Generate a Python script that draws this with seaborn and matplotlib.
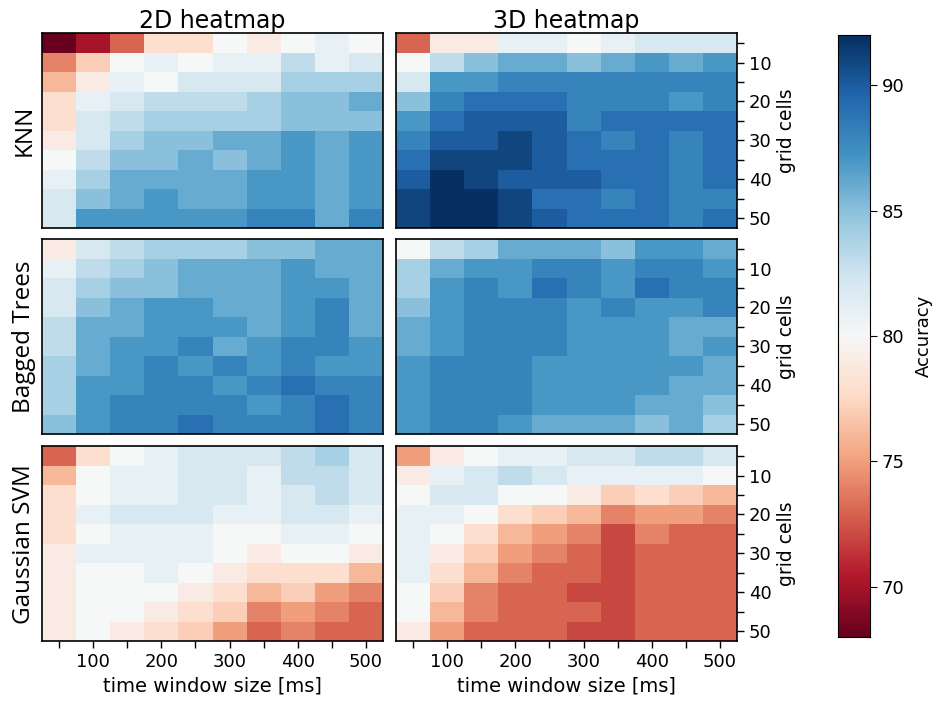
import numpy as np
import pandas as pd
import seaborn as sns
import matplotlib
matplotlib.use('Agg')
import matplotlib.pyplot as plt

plt.rcParams['font.family'] = ['DejaVu Sans']

#%%
# axes values
time_windows = [50, 100, 150, 200, 250, 300, 350, 400, 450, 500]
grid_cells = [5, 10, 15, 20, 25, 30, 35, 40, 45, 50]
classifiers = ['KNN', 'Bagged Trees', 'Gaussian SVM']
titles = ['2D heatmap', '3D heatmap']

# accuracy [%], rows = grid cells (5..50), columns = time window (50..500 ms)
knn_2d = [
    [68, 70, 73, 78, 78, 80, 79, 80, 81, 80],
    [74, 77, 80, 81, 80, 81, 81, 83, 81, 82],
    [76, 79, 81, 80, 82, 82, 82, 84, 84, 84],
    [78, 81, 82, 83, 83, 83, 84, 85, 85, 86],
    [78, 82, 83, 84, 84, 84, 84, 85, 85, 85],
    [79, 82, 84, 85, 85, 86, 86, 87, 86, 87],
    [80, 83, 85, 85, 86, 85, 86, 87, 86, 87],
    [81, 84, 86, 86, 86, 86, 87, 87, 86, 87],
    [82, 85, 86, 87, 86, 86, 87, 87, 86, 87],
    [82, 87, 87, 87, 87, 87, 88, 88, 86, 88],
]
knn_3d = [
    [73, 79, 79, 81, 81, 80, 81, 82, 82, 82],
    [80, 83, 85, 86, 86, 85, 86, 87, 86, 87],
    [82, 87, 87, 88, 88, 88, 88, 88, 88, 88],
    [85, 88, 89, 89, 89, 88, 88, 88, 87, 88],
    [87, 89, 90, 90, 90, 88, 89, 89, 89, 89],
    [88, 90, 90, 91, 90, 89, 88, 89, 88, 89],
    [89, 91, 91, 91, 90, 89, 89, 89, 88, 89],
    [90, 92, 91, 90, 90, 90, 89, 89, 88, 89],
    [91, 92, 92, 91, 89, 89, 88, 89, 88, 88],
    [91, 92, 92, 91, 90, 89, 89, 89, 88, 89],
]
bagged_2d = [
    [79, 82, 83, 84, 84, 84, 85, 85, 86, 86],
    [81, 83, 84, 85, 86, 86, 86, 87, 86, 86],
    [82, 84, 85, 85, 86, 86, 86, 87, 87, 86],
    [82, 85, 86, 87, 87, 86, 86, 87, 88, 86],
    [83, 86, 86, 87, 87, 87, 86, 87, 88, 86],
    [83, 86, 87, 87, 88, 86, 87, 88, 88, 87],
    [84, 86, 87, 88, 87, 88, 87, 88, 87, 87],
    [84, 87, 87, 88, 88, 87, 88, 89, 88, 88],
    [84, 87, 88, 88, 88, 88, 87, 88, 89, 88],
    [85, 87, 88, 88, 89, 88, 88, 88, 89, 88],
]
bagged_3d = [
    [80, 83, 84, 86, 86, 86, 85, 87, 87, 86],
    [84, 86, 87, 87, 88, 88, 87, 88, 88, 87],
    [84, 87, 88, 87, 89, 88, 87, 89, 88, 88],
    [85, 87, 88, 88, 88, 87, 88, 87, 87, 88],
    [86, 87, 88, 88, 88, 87, 87, 87, 86, 86],
    [86, 87, 88, 88, 88, 87, 87, 87, 86, 87],
    [87, 88, 88, 88, 87, 87, 87, 87, 87, 86],
    [87, 88, 88, 88, 87, 87, 87, 87, 86, 86],
    [87, 88, 88, 88, 87, 87, 87, 86, 86, 85],
    [87, 88, 88, 87, 86, 86, 86, 85, 86, 84],
]
svm_2d = [
    [73, 78, 80, 81, 82, 82, 82, 83, 84, 82],
    [76, 80, 81, 81, 82, 82, 81, 83, 83, 82],
    [78, 80, 81, 81, 82, 82, 81, 82, 83, 82],
    [78, 81, 82, 82, 82, 81, 81, 82, 82, 81],
    [78, 80, 81, 81, 81, 80, 80, 81, 81, 80],
    [79, 81, 81, 81, 81, 80, 79, 80, 80, 79],
    [79, 80, 80, 81, 80, 79, 78, 78, 78, 76],
    [79, 80, 80, 80, 79, 78, 76, 77, 75, 74],
    [79, 80, 80, 79, 78, 77, 74, 75, 74, 73],
    [79, 80, 79, 78, 77, 75, 73, 74, 73, 73],
]
svm_3d = [
    [75, 79, 80, 81, 81, 82, 82, 83, 83, 82],
    [79, 81, 82, 83, 82, 81, 81, 81, 81, 80],
    [80, 82, 82, 80, 80, 79, 77, 78, 77, 76],
    [81, 81, 80, 78, 77, 76, 74, 75, 75, 74],
    [81, 80, 78, 76, 75, 74, 72, 74, 73, 73],
    [81, 79, 77, 75, 74, 73, 72, 73, 73, 73],
    [81, 78, 76, 74, 73, 73, 72, 73, 73, 73],
    [80, 77, 74, 73, 73, 72, 72, 73, 73, 73],
    [80, 76, 74, 73, 73, 73, 72, 73, 73, 73],
    [79, 75, 73, 73, 73, 72, 72, 73, 73, 73],
]

data = [[knn_2d, knn_3d], [bagged_2d, bagged_3d], [svm_2d, svm_3d]]

#%%
fig = plt.figure(figsize=(9.38, 7.04), dpi=100)
lefts = [0.0448, 0.4222]
bottoms = [0.6761, 0.3835, 0.0895]
w, h = 0.3635, 0.2765
cax = fig.add_axes([0.8934, 0.0952, 0.0341, 0.855])

xlabels = [str(t) if t % 100 == 0 else '' for t in time_windows]
ylabels = [str(g) if g % 10 == 0 else '' for g in grid_cells]

for i in range(3):
    for j in range(2):
        ax = fig.add_axes([lefts[j], bottoms[i], w, h])
        df = pd.DataFrame(data[i][j], index=grid_cells, columns=time_windows)
        first = (i == 0 and j == 0)
        sns.heatmap(df, ax=ax, cmap='RdBu', vmin=68, vmax=92,
                    cbar=first, cbar_ax=cax if first else None,
                    xticklabels=False, yticklabels=False)
        for s in ax.spines.values():
            s.set_visible(True)
            s.set_linewidth(1.2)
        if i == 2:
            ax.set_xticks(np.arange(10) + 0.5)
            ax.set_xticklabels(xlabels, rotation=0, fontsize=13)
            ax.set_xlabel('time window size [ms]', fontsize=14, labelpad=4)
            ax.tick_params(axis='x', length=5, width=1)
        else:
            ax.set_xticks([])
            ax.set_xlabel('')
        if j == 1:
            ax.yaxis.tick_right()
            ax.yaxis.set_label_position('right')
            ax.set_yticks(np.arange(10) + 0.5)
            ax.set_yticklabels(ylabels, rotation=0, fontsize=13)
            ax.tick_params(axis='y', length=5, width=1)
            ax.set_ylabel('grid cells', fontsize=13.5, labelpad=4)
        else:
            ax.set_yticks([])
            ax.set_ylabel(classifiers[i], fontsize=17.5, family=['Open Sans', 'DejaVu Sans'], labelpad=4)
        if i == 0:
            ax.set_title(titles[j], fontsize=17, pad=3)

cax.set_ylabel('Accuracy', fontsize=13, labelpad=7)
cax.tick_params(labelsize=13, length=5)
for s in cax.spines.values():
    s.set_visible(True)
cax.set_yticks([70, 75, 80, 85, 90])

plt.savefig('out.png', dpi=100)
